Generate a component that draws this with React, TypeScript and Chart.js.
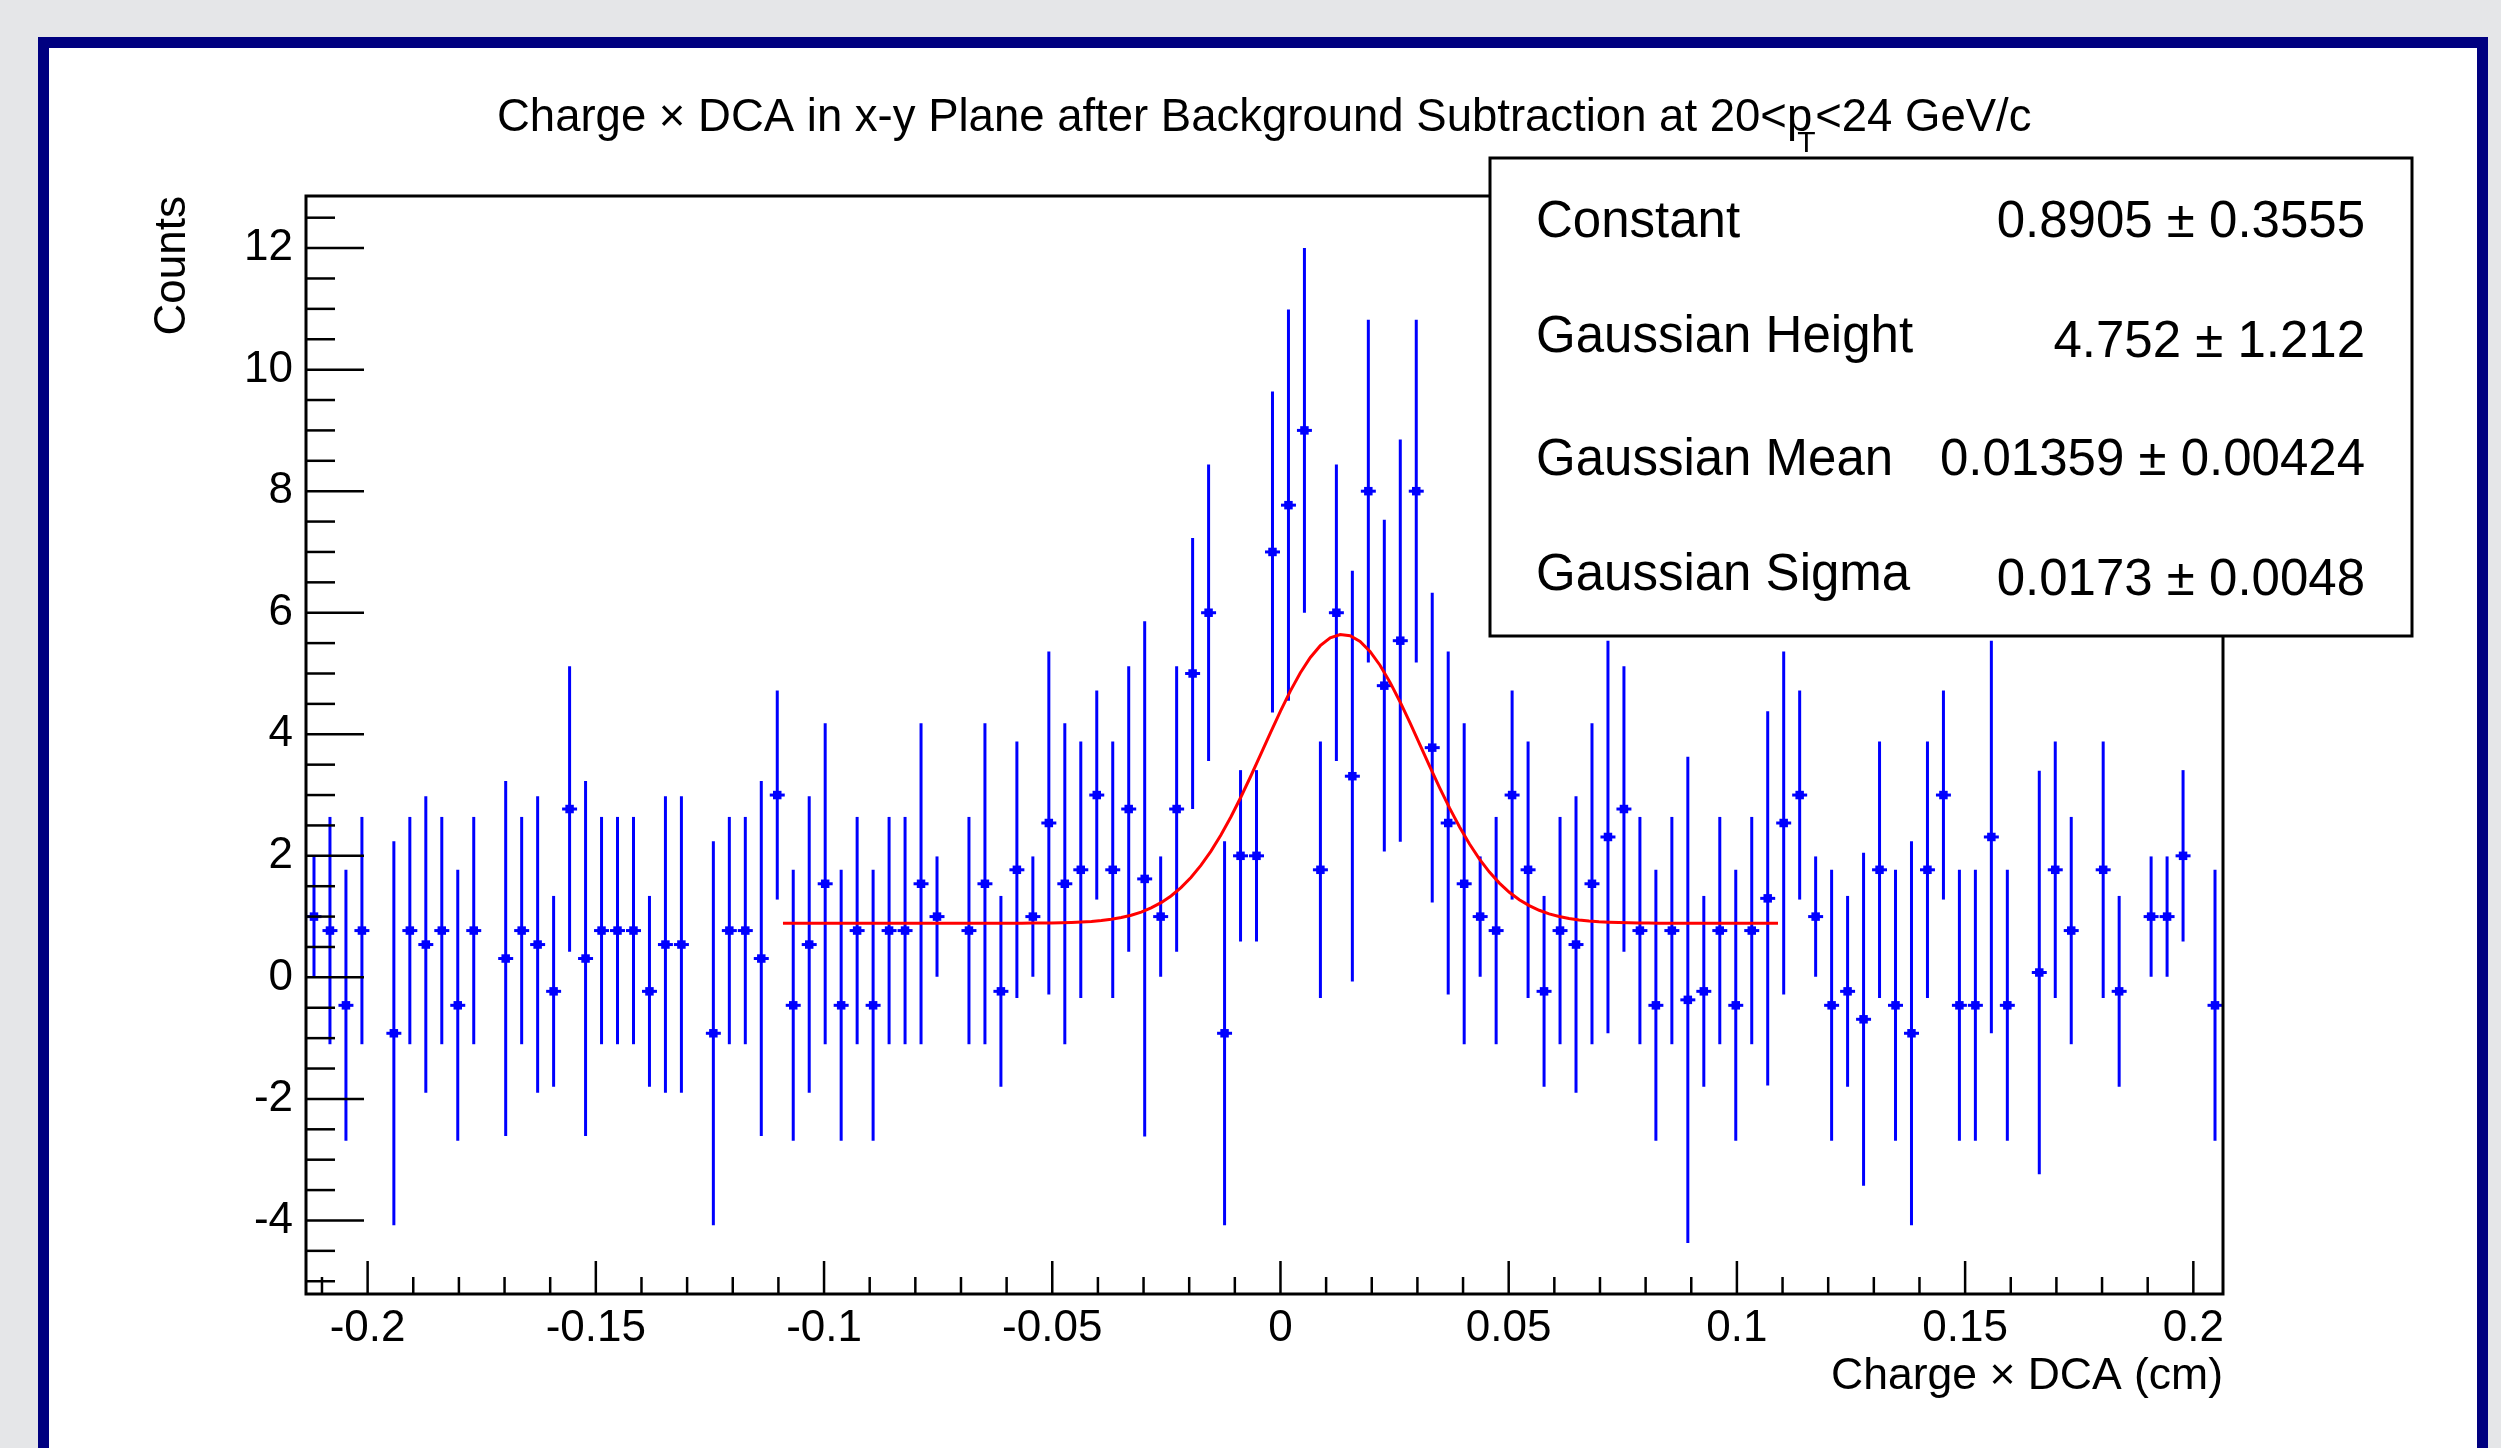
import React, { useEffect, useRef } from "react";
import { Chart, registerables } from "chart.js";

Chart.register(...registerables);

// ---------------- data ----------------
const BIN_MIN = -0.2135;
const BIN_WIDTH = 0.0035;

// bin contents (null = empty bin, not drawn)
const binValues: (number | null)[] = [
  1.0, 0.77, -0.46, 0.77, null, -0.92, 0.77, 0.54, 0.77, -0.46,
  0.77, null, 0.31, 0.77, 0.54, -0.23, 2.77, 0.31, 0.77, 0.77,
  0.77, -0.23, 0.54, 0.54, null, -0.92, 0.77, 0.77, 0.31, 3.0,
  -0.46, 0.54, 1.54, -0.46, 0.77, -0.46, 0.77, 0.77, 1.54, 1.0,
  null, 0.77, 1.54, -0.23, 1.77, 1.0, 2.54, 1.54, 1.77, 3.0,
  1.77, 2.77, 1.62, 1.0, 2.77, 5.0, 6.0, -0.92, 2.0, 2.0,
  7.0, 7.77, 9.0, 1.77, 6.0, 3.31, 8.0, 4.8, 5.54, 8.0,
  3.78, 2.54, 1.54, 1.0, 0.77, 3.0, 1.77, -0.23, 0.77, 0.54,
  1.54, 2.31, 2.77, 0.77, -0.46, 0.77, -0.37, -0.23, 0.77, -0.46,
  0.77, 1.3, 2.54, 3.0, 1.0, -0.46, -0.23, -0.69, 1.77, -0.46,
  -0.92, 1.77, 3.0, -0.46, -0.46, 2.31, -0.46, null, 0.08, 1.77,
  0.77, null, 1.77, -0.23, null, 1.0, 1.0, 2.0, null, -0.46,
];

// symmetric errors of the bin contents
const binErrors: (number | null)[] = [
  0.99, 1.87, 2.23, 1.87, null, 3.16, 1.87, 2.44, 1.87, 2.23,
  1.87, null, 2.92, 1.87, 2.44, 1.57, 2.35, 2.92, 1.87, 1.87,
  1.87, 1.57, 2.44, 2.44, null, 3.16, 1.87, 1.87, 2.92, 1.72,
  2.23, 2.44, 2.64, 2.23, 1.87, 2.23, 1.87, 1.87, 2.64, 0.99,
  null, 1.87, 2.64, 1.57, 2.11, 0.99, 2.82, 2.64, 2.11, 1.72,
  2.11, 2.35, 4.24, 0.99, 2.35, 2.23, 2.44, 3.16, 1.41, 1.41,
  2.64, 3.22, 3.0, 2.11, 2.44, 3.38, 2.82, 2.73, 3.31, 2.82,
  2.55, 2.82, 2.64, 0.99, 1.87, 1.72, 2.11, 1.57, 1.87, 2.44,
  2.64, 3.23, 2.35, 1.87, 2.23, 1.87, 4.0, 1.57, 1.87, 2.23,
  1.87, 3.08, 2.82, 1.72, 0.99, 2.23, 1.57, 2.74, 2.11, 2.23,
  3.16, 2.11, 1.72, 2.23, 2.23, 3.23, 2.23, null, 3.32, 2.11,
  1.87, null, 2.11, 1.57, null, 0.99, 0.99, 1.41, null, 2.23,
];

const xTickValues = [-0.2, -0.15, -0.1, -0.05, 0, 0.05, 0.1, 0.15, 0.2];
const xTickLabels = ["-0.2", "-0.15", "-0.1", "-0.05", "0", "0.05", "0.1", "0.15", "0.2"];
const yTickValues = [-4, -2, 0, 2, 4, 6, 8, 10, 12];
const yTickLabels = ["-4", "-2", "0", "2", "4", "6", "8", "10", "12"];

// fit result (constant + gaussian)
const fitParamNames = ["Constant", "Gaussian Height", "Gaussian Mean", "Gaussian Sigma"];
const fitParamValues = [0.8905, 4.752, 0.01359, 0.0173];
const fitParamValueText = ["0.8905", "4.752", "0.01359", "0.0173"];
const fitParamErrorText = ["0.3555", "1.212", "0.00424", "0.0048"];
const fitRange = [-0.109, 0.109];
const FIT_NPX = 100;

const X_MIN = -0.2135;
const X_MAX = 0.2065;
const Y_MIN = -5.21;
const Y_MAX = 12.857;

const TITLE_MAIN = "Charge \u00d7 DCA in x-y Plane after Background Subtraction at 20<p";
const TITLE_SUB = "T";
const TITLE_TAIL = "<24 GeV/c";
const X_TITLE = "Charge \u00d7 DCA (cm)";
const Y_TITLE = "Counts";

// ---------------- styling ----------------
const FONT = "'Liberation Sans', Arial, Helvetica, sans-serif";
const W = 2501;
const H = 1448;

function fitFunction(x: number): number {
  const [c, h, m, s] = fitParamValues;
  const t = (x - m) / s;
  return c + h * Math.exp(-0.5 * t * t);
}

const rootStylePlugin = {
  id: "rootStyle",
  beforeDatasetsDraw(chart: any) {
    const { ctx, scales } = chart;
    const xs = scales.x;
    const ys = scales.y;
    ctx.save();
    ctx.strokeStyle = "#0000ff";
    binValues.forEach((v, k) => {
      if (v === null) return;
      const e = binErrors[k] as number;
      const c = BIN_MIN + (k + 0.5) * BIN_WIDTH;
      const px = xs.getPixelForValue(c);
      const py = ys.getPixelForValue(v);
      ctx.lineWidth = 3;
      ctx.beginPath();
      ctx.moveTo(px, ys.getPixelForValue(v - e));
      ctx.lineTo(px, ys.getPixelForValue(v + e));
      ctx.stroke();
      ctx.lineWidth = 3;
      ctx.beginPath();
      ctx.moveTo(xs.getPixelForValue(c - BIN_WIDTH / 2) + 0.5, py);
      ctx.lineTo(xs.getPixelForValue(c + BIN_WIDTH / 2) - 0.5, py);
      ctx.stroke();
    });
    ctx.restore();
  },
  afterDatasetsDraw(chart: any) {
    const { ctx, chartArea: a, scales } = chart;
    const xs = scales.x;
    const ys = scales.y;
    ctx.save();
    ctx.strokeStyle = "#000";
    ctx.lineWidth = 3;
    ctx.strokeRect(a.left, a.top, a.right - a.left, a.bottom - a.top);
    ctx.lineWidth = 2.5;
    // x ticks
    for (let i = -21; i <= 20; i++) {
      const v = i / 100;
      const major = i % 5 === 0;
      const px = xs.getPixelForValue(v);
      if (px < a.left || px > a.right) continue;
      ctx.beginPath();
      ctx.moveTo(px, a.bottom);
      ctx.lineTo(px, a.bottom - (major ? 33 : 17));
      ctx.stroke();
    }
    // y ticks
    for (let i = -10; i <= 25; i++) {
      const v = i / 2;
      const major = i % 4 === 0;
      const py = ys.getPixelForValue(v);
      if (py < a.top || py > a.bottom) continue;
      ctx.beginPath();
      ctx.moveTo(a.left, py);
      ctx.lineTo(a.left + (major ? 58 : 29), py);
      ctx.stroke();
    }
    ctx.restore();
  },
  afterDraw(chart: any) {
    const { ctx } = chart;
    ctx.save();
    // stats box
    const bx = 1490, by = 158, bw = 922, bh = 478;
    ctx.fillStyle = "#fff";
    ctx.fillRect(bx, by, bw, bh);
    ctx.strokeStyle = "#000";
    ctx.lineWidth = 3;
    ctx.strokeRect(bx, by, bw, bh);
    ctx.fillStyle = "#000";
    ctx.font = `51px ${FONT}`;
    ctx.textBaseline = "alphabetic";
    const labelBase = [237, 352, 475, 590];
    const valueBase = [237, 357, 475, 595];
    fitParamNames.forEach((name, i) => {
      ctx.textAlign = "left";
      ctx.fillText(name, 1536, labelBase[i]);
      ctx.textAlign = "right";
      ctx.fillText(`${fitParamValueText[i]} \u00b1 ${fitParamErrorText[i]}`, 2365, valueBase[i]);
    });
    // main title
    ctx.textAlign = "left";
    ctx.font = `45.5px ${FONT}`;
    let x = 497;
    const base = 131;
    ctx.fillText(TITLE_MAIN, x, base);
    x += ctx.measureText(TITLE_MAIN).width;
    ctx.font = `30px ${FONT}`;
    ctx.fillText(TITLE_SUB, x - 15, 152);
    ctx.font = `45.5px ${FONT}`;
    ctx.fillText(TITLE_TAIL, x + 3, base);
    ctx.restore();
  },
};

export default function App() {
  const ref = useRef<HTMLCanvasElement | null>(null);

  useEffect(() => {
    if (!ref.current) return;
    const dataPoints = binValues
      .map((v, k) => (v === null ? null : { x: BIN_MIN + (k + 0.5) * BIN_WIDTH, y: v }))
      .filter((p) => p !== null) as { x: number; y: number }[];
    const fitPoints: { x: number; y: number }[] = [];
    for (let i = 0; i <= FIT_NPX; i++) {
      const xv = fitRange[0] + ((fitRange[1] - fitRange[0]) * i) / FIT_NPX;
      fitPoints.push({ x: xv, y: fitFunction(xv) });
    }

    const chart = new Chart(ref.current, {
      type: "scatter",
      data: {
        datasets: [
          {
            type: "line",
            label: "fit",
            data: fitPoints,
            borderColor: "#ff0000",
            borderWidth: 3,
            pointRadius: 0,
            fill: false,
            tension: 0,
            order: 0,
          } as any,
          {
            label: "data",
            data: dataPoints,
            backgroundColor: "#0000ff",
            borderColor: "#0000ff",
            borderWidth: 0,
            pointStyle: "rect",
            pointRadius: 6,
            order: 1,
          } as any,
        ],
      },
      options: {
        responsive: false,
        animation: false,
        devicePixelRatio: 1,
        events: [],
        layout: { padding: { left: 146.6, top: 196, right: W - 2223, bottom: 44.2 } },
        plugins: {
          legend: { display: false },
          tooltip: { enabled: false },
          title: { display: false },
        },
        scales: {
          x: {
            type: "linear",
            min: X_MIN,
            max: X_MAX,
            grid: { display: false, drawTicks: false },
            border: { display: false },
            afterBuildTicks: (axis: any) => {
              axis.ticks = xTickValues.map((value) => ({ value }));
            },
            afterFit: (axis: any) => {
              axis.height = 109.8;
            },
            ticks: {
              autoSkip: false,
              maxRotation: 0,
              minRotation: 0,
              padding: 8.6,
              color: "#000",
              font: { family: FONT, size: 44 },
              callback: (value: any) => xTickLabels[xTickValues.indexOf(Number(value))] ?? "",
            },
            title: {
              display: true,
              text: X_TITLE,
              align: "end",
              color: "#000",
              padding: 0,
              font: { family: FONT, size: 44.5 },
            },
          },
          y: {
            type: "linear",
            min: Y_MIN,
            max: Y_MAX,
            grid: { display: false, drawTicks: false },
            border: { display: false },
            afterBuildTicks: (axis: any) => {
              axis.ticks = yTickValues.map((value) => ({ value }));
            },
            afterFit: (axis: any) => {
              axis.width = 159.4;
            },
            ticks: {
              autoSkip: false,
              padding: 13,
              color: "#000",
              font: { family: FONT, size: 44 },
              callback: (value: any) => yTickLabels[yTickValues.indexOf(Number(value))] ?? "",
            },
            title: {
              display: true,
              text: Y_TITLE,
              align: "end",
              color: "#000",
              padding: 0,
              font: { family: FONT, size: 44 },
            },
          },
        },
      },
      plugins: [rootStylePlugin],
    } as any);

    return () => chart.destroy();
  }, []);

  return (
    <div
      style={{
        position: "fixed",
        left: 0,
        top: 0,
        width: W,
        height: H,
        background: "#e5e6e8",
        overflow: "hidden",
      }}
    >
      <div
        style={{
          position: "absolute",
          left: 38,
          top: 37,
          width: 2450,
          height: 1500,
          background: "#000080",
        }}
      />
      <div
        style={{
          position: "absolute",
          left: 49,
          top: 48,
          width: 2428,
          height: 1500,
          background: "#ffffff",
        }}
      />
      <canvas
        ref={ref}
        width={W}
        height={H}
        style={{ position: "absolute", left: 0, top: 0, width: W, height: H, display: "block" }}
      />
    </div>
  );
}
